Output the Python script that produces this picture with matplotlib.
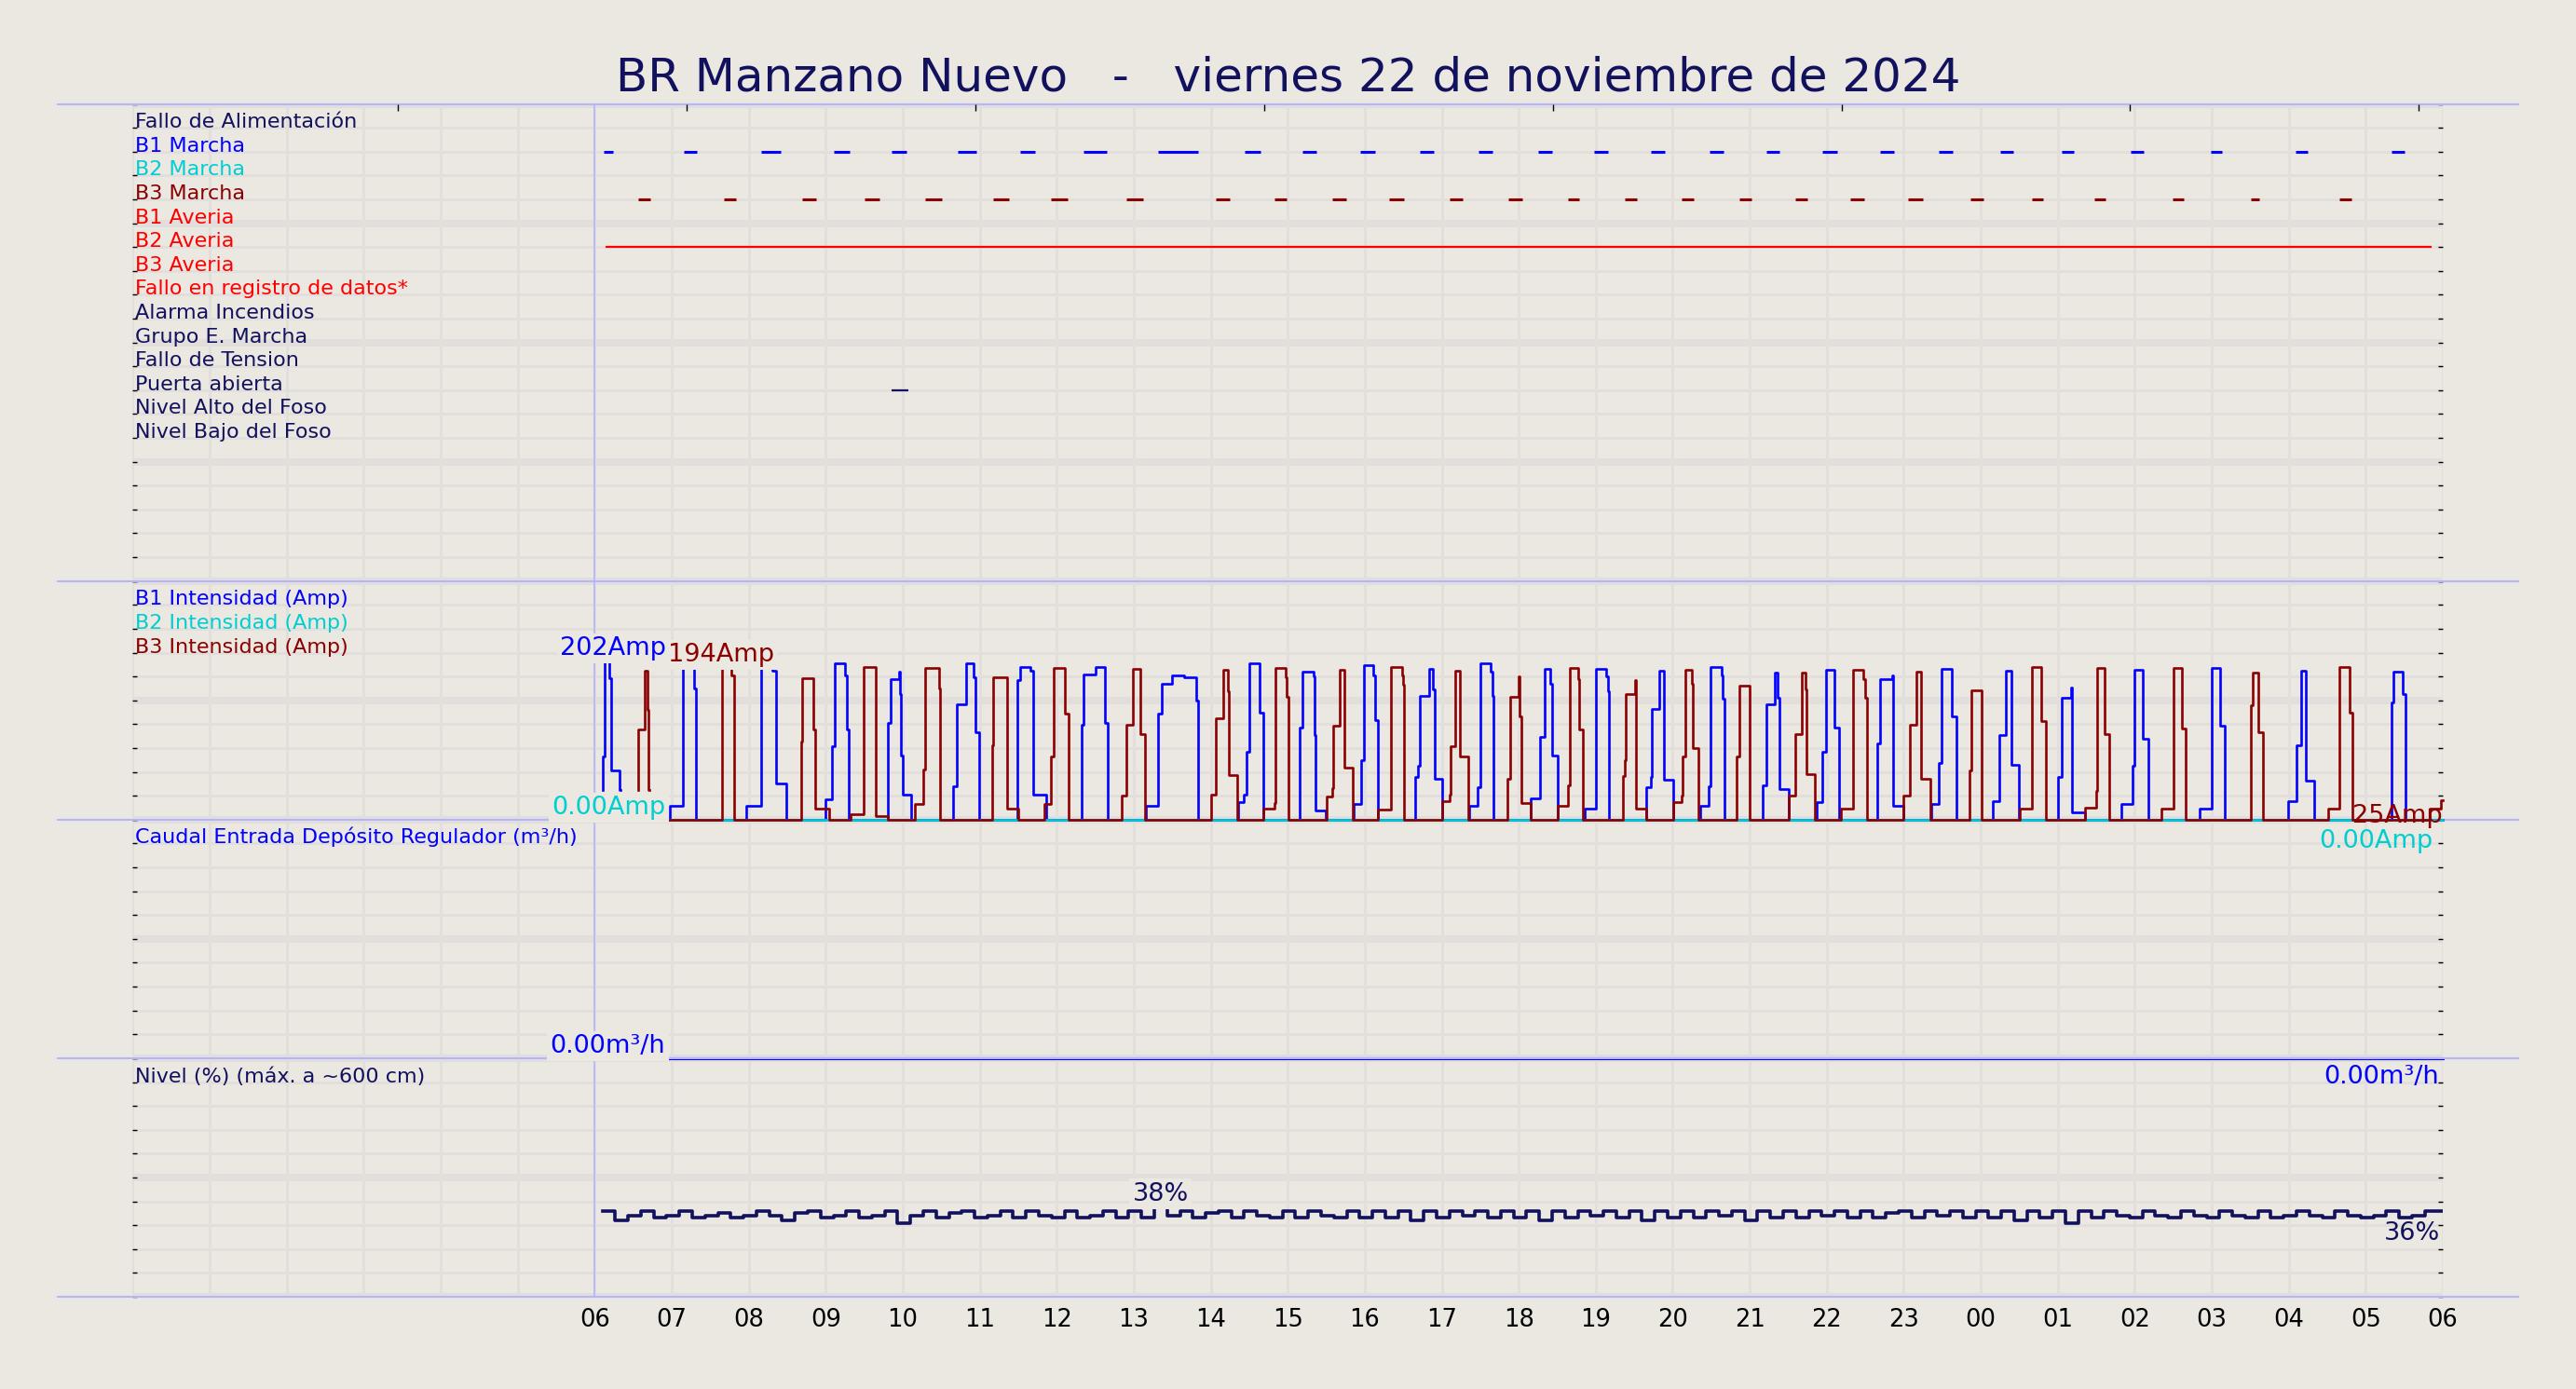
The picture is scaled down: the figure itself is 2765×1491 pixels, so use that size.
import numpy as np
import matplotlib
matplotlib.use("Agg")
import matplotlib.pyplot as plt
from matplotlib.ticker import FixedLocator
from matplotlib.transforms import blended_transform_factory

nan = np.nan

# ---- data (hours since 00:00 of 22/11/2024) ----
title = "BR Manzano Nuevo   -   viernes 22 de noviembre de 2024"

signal_rows = ["Fallo de Alimentación", "B1 Marcha", "B2 Marcha", "B3 Marcha",
               "B1 Averia", "B2 Averia", "B3 Averia", "Fallo en registro de datos*",
               "Alarma Incendios", "Grupo E. Marcha", "Fallo de Tension",
               "Puerta abierta", "Nivel Alto del Foso", "Nivel Bajo del Foso"]

b1_marcha_on = [6.12, 7.16, 8.16, 9.11, 9.86, 10.71, 11.52, 12.35, 13.32, 14.44,
                15.19, 15.94, 16.72, 17.48, 18.25, 18.98, 19.72, 20.48, 21.21, 21.94,
                22.69, 23.45, 24.25, 25.05, 25.95, 26.99, 28.09, 29.34]
b1_marcha_off = [6.24, 7.33, 8.41, 9.31, 10.05, 10.96, 11.72, 12.65, 13.84, 14.65,
                 15.37, 16.13, 16.90, 17.66, 18.43, 19.16, 19.90, 20.66, 21.39, 22.13,
                 22.87, 23.64, 24.42, 25.21, 26.11, 27.13, 28.24, 29.50]
b3_marcha_on = [6.57, 7.68, 8.69, 9.50, 10.29, 11.18, 11.93, 12.90, 14.06, 14.83,
                15.58, 16.32, 17.10, 17.87, 18.64, 19.38, 20.11, 20.86, 21.59, 22.31,
                23.06, 23.86, 24.66, 25.47, 26.49, 27.51, 28.66]
b3_marcha_off = [6.72, 7.83, 8.88, 9.70, 10.51, 11.38, 12.14, 13.12, 14.25, 14.99,
                 15.76, 16.51, 17.27, 18.05, 18.79, 19.54, 20.27, 21.02, 21.75, 22.49,
                 23.25, 24.03, 24.81, 25.62, 26.63, 27.62, 28.81]
b2_averia_on = [6.14]
b2_averia_off = [29.86]
puerta_on = [9.86]
puerta_off = [10.07]

b1_t = [6.11, 6.11, 6.135, 6.19, 6.216, 6.324, 6.33,
        6.92, 6.973, 7.14, 7.29, 7.32,
        7.97, 8.16, 8.31, 8.35, 8.49,
        9.00, 9.08, 9.12, 9.25, 9.28, 9.30,
        9.81, 9.84, 9.95, 9.97, 9.98, 10.00, 10.11,
        10.65, 10.70, 10.82, 10.92, 10.94, 10.99,
        11.49, 11.52, 11.66, 11.70, 11.86,
        12.32, 12.35, 12.50, 12.62, 12.66,
        13.16, 13.31, 13.37, 13.50, 13.65, 13.81, 13.83,
        14.36, 14.43, 14.46, 14.50, 14.63, 14.68,
        15.16, 15.19, 15.34, 15.35, 15.36, 15.49,
        15.86, 15.95, 15.99, 16.11, 16.13, 16.17,
        16.66, 16.69, 16.71, 16.84, 16.89, 16.91, 17.01,
        17.36, 17.47, 17.50, 17.63, 17.66, 17.67,
        18.16, 18.27, 18.34, 18.41, 18.43, 18.51,
        18.86, 19.00, 19.14, 19.16, 19.17,
        19.66, 19.71, 19.73, 19.83, 19.88, 20.01,
        20.36, 20.47, 20.49, 20.63, 20.65, 20.67,
        21.17, 21.22, 21.33, 21.36, 21.38, 21.51,
        21.87, 21.94, 21.99, 22.10, 22.16,
        22.66, 22.69, 22.85, 22.86, 22.99,
        23.36, 23.46, 23.49, 23.62, 23.68,
        24.16, 24.24, 24.33, 24.40, 24.50,
        25.00, 25.05, 25.17, 25.18, 25.35,
        25.83, 25.97, 26.00, 26.10, 26.18,
        26.84, 27.00, 27.11, 27.17,
        27.99, 28.10, 28.16, 28.22, 28.33,
        29.34, 29.36, 29.48, 29.51, 30.0]
b1_a = [38, 80, 202, 180, 62, 38, nan,
        0, 18, 194, 167, 0,
        18, 193, 189, 46, 0,
        26, 93, 199, 183, 115, 0,
        123, 179, 188, 159, 82, 32, 0,
        42, 147, 198, 181, 111, 0,
        177, 194, 189, 32, 0,
        121, 184, 194, 123, 0,
        18, 135, 172, 183, 181, 151, 0,
        22, 32, 86, 199, 136, 0,
        117, 188, 182, 107, 12, 0,
        20, 76, 196, 183, 126, 0,
        54, 68, 157, 192, 165, 52, 0,
        17, 41, 199, 188, 157, 0,
        27, 105, 192, 173, 82, 0,
        14, 191, 182, 163, 0,
        41, 54, 140, 189, 51, 0,
        17, 42, 194, 183, 153, 0,
        44, 146, 187, 155, 39, 0,
        22, 86, 190, 117, 0,
        97, 179, 183, 17, 0,
        20, 72, 191, 131, 0,
        24, 107, 189, 70, 0,
        54, 155, 168, 9, 0,
        20, 68, 190, 103, 0,
        14, 193, 119, 0,
        24, 95, 189, 50, 0,
        149, 188, 159, 0, 0]

b2_t = [6.92, 30.0]
b2_a = [0, 0]

b3_t = [6.568, 6.568, 6.65, 6.686, 6.703, 6.71,
        6.92, 7.65, 7.78, 7.81,
        8.68, 8.70, 8.84, 8.86, 9.04,
        9.32, 9.49, 9.65, 9.81,
        10.16, 10.27, 10.29, 10.47, 10.49,
        11.16, 11.18, 11.35, 11.50,
        11.84, 11.93, 11.96, 12.11, 12.15,
        12.84, 12.90, 12.99, 13.08, 13.15,
        14.00, 14.06, 14.16, 14.22, 14.24, 14.34,
        14.68, 14.83, 14.84, 14.97, 14.99, 15.01,
        15.50, 15.58, 15.59, 15.67, 15.73, 15.85,
        16.17, 16.34, 16.48, 16.50, 16.51,
        17.00, 17.10, 17.12, 17.17, 17.24, 17.34,
        17.85, 17.89, 18.00, 18.01, 18.03, 18.16,
        18.51, 18.64, 18.66, 18.77, 18.79, 18.83,
        19.35, 19.38, 19.39, 19.51, 19.52, 19.66,
        20.01, 20.12, 20.13, 20.16, 20.25, 20.26, 20.33,
        20.83, 20.86, 20.87, 21.00,
        21.51, 21.59, 21.67, 21.72, 21.74, 21.84,
        22.18, 22.34, 22.47, 22.50, 22.52,
        23.00, 23.08, 23.16, 23.23, 23.35,
        23.85, 23.88, 24.01,
        24.51, 24.67, 24.78, 24.84,
        25.35, 25.50, 25.51, 25.61, 25.67,
        26.35, 26.50, 26.61, 26.66,
        27.51, 27.53, 27.60, 27.67,
        28.51, 28.66, 28.79, 28.83,
        29.83, 29.97, 30.0]
b3_a = [38, 115, 189, 139, 38, nan,
        0, 193, 183, 0,
        99, 180, 115, 14, 0,
        7, 194, 4, 0,
        20, 64, 193, 167, 0,
        95, 181, 14, 0,
        20, 80, 193, 135, 0,
        30, 121, 192, 109, 0,
        32, 129, 190, 163, 56, 0,
        14, 21, 193, 181, 156, 0,
        29, 40, 119, 190, 66, 0,
        13, 194, 183, 171, 0,
        24, 32, 93, 189, 80, 0,
        52, 156, 182, 131, 21, 0,
        17, 44, 193, 179, 115, 0,
        55, 76, 160, 177, 14, 0,
        22, 30, 80, 190, 173, 91, 0,
        80, 97, 170, 0,
        30, 109, 187, 165, 58, 0,
        14, 190, 179, 155, 0,
        31, 121, 188, 52, 0,
        62, 164, 0,
        14, 194, 125, 0,
        15, 36, 193, 109, 0,
        14, 193, 116, 0,
        145, 187, 111, 0,
        14, 194, 136, 0,
        14, 25, 25]

caudal_t = [6.92, 30.0]
caudal_v = [0, 0]

# nivel (%), one value every 10 min from 06:06
level_start = 6.1
level = [36, 32, 34, 36, 33, 34,
         36, 33, 34, 35, 33, 34,
         36, 34, 32, 35, 36, 33,
         34, 36, 33, 34, 36, 31,
         34, 36, 33, 35, 36, 33,
         34, 36, 33, 36, 34, 33,
         36, 33, 34, 36, 33, 36,
         33, 38, 34, 36, 33, 35,
         36, 33, 36, 34, 33, 36,
         33, 36, 34, 33, 36, 33,
         36, 33, 36, 32, 36, 33,
         36, 34, 36, 33, 36, 33,
         36, 32, 36, 33, 36, 34,
         36, 33, 36, 32, 36, 33,
         36, 33, 36, 34, 36, 32,
         36, 33, 36, 33, 36, 34,
         36, 33, 36, 33, 35, 36,
         33, 36, 34, 36, 33, 36,
         33, 36, 32, 36, 33, 36,
         31, 36, 33, 36, 34, 33,
         36, 34, 33, 36, 34, 33,
         36, 34, 33, 36, 33, 34,
         36, 34, 33, 36, 34, 33,
         34, 36, 33, 34, 36, 36]

top_marks = [3.44, 7.19, 10.94, 14.69, 18.44, 22.19, 25.94, 29.69]
hours = list(range(31))

# ---- style ----
bg = "#ebe7e1"
grid_c = "#e2dedc"
lav = "#b4b4ff"
navy = "#11115e"
c_b1 = "#0000ff"
c_b2 = "#00ced1"
c_b3 = "#8b0000"
c_red = "#ff0000"

row_colors = [navy, c_b1, c_b2, c_b3, c_red, c_red, c_red, c_red,
              navy, navy, navy, navy, navy, navy]

fig = plt.figure(figsize=(27.65, 14.91), dpi=100, facecolor=bg)
gs = fig.add_gridspec(4, 1, height_ratios=[20, 10, 10, 10], hspace=0,
                      left=0.0515, right=0.9483, top=0.9252, bottom=0.0664)
axs = [fig.add_subplot(gs[i]) for i in range(4)]
for i, ax in enumerate(axs):
    ax.set_zorder(4 - i)

box = dict(boxstyle="square,pad=0.12", fc=bg, ec="none")


def setup(ax, nrows, top):
    ax.set_facecolor("none")
    ax.set_xlim(0, 30)
    ax.set_ylim(0, top)
    ax.xaxis.set_major_locator(FixedLocator(hours))
    ax.yaxis.set_major_locator(FixedLocator(np.linspace(0, top, nrows // 5 + 1)))
    ax.yaxis.set_minor_locator(FixedLocator(np.linspace(0, top, nrows + 1)))
    ax.grid(axis="x", which="major", color=grid_c, lw=2)
    ax.grid(axis="y", which="major", color=grid_c, lw=5.8)
    ax.grid(axis="y", which="minor", color=grid_c, lw=2)
    ax.set_axisbelow(True)
    ax.tick_params(axis="x", length=0, labelbottom=False)
    ax.tick_params(axis="y", which="both", direction="in", length=3.6, width=1,
                   left=True, right=True, labelleft=False, color="black")
    for s in ax.spines.values():
        s.set_visible(False)
    ax.axvline(6, color=lav, lw=1.2, zorder=1.5)
    tr = blended_transform_factory(fig.transFigure, ax.transAxes)
    ax.plot([0.0223, 0.9776], [0, 0], transform=tr, color=lav, lw=1.5,
            clip_on=False, zorder=1.5)


def fmt(v):
    return "0.00" if v == 0 else f"{v:.0f}"


def segments(ax, y, on, off, color, lw):
    ax.hlines([y] * len(on), on, off, color=color, lw=lw)


def row_label(ax, frac, name, color):
    ax.text(0.001, frac, name, transform=ax.transAxes, color=color,
            fontsize=16, ha="left", va="baseline", zorder=3)


def end_label(ax, x, y, s, color, dy):
    ax.annotate(s, (x, y), xytext=(0, dy), textcoords="offset points", color=color,
                fontsize=19.5, ha="right", va="top", zorder=4, annotation_clip=False)


# ---- panel 1: digital signals ----
ax1 = axs[0]
setup(ax1, 20, 20)
tr = blended_transform_factory(fig.transFigure, ax1.transAxes)
ax1.plot([0.0223, 0.9776], [1, 1], transform=tr, color=lav, lw=1.5, clip_on=False)
for k, (name, col) in enumerate(zip(signal_rows, row_colors)):
    row_label(ax1, (19 - k) / 20, name, col)
segments(ax1, 18, b1_marcha_on, b1_marcha_off, c_b1, 2.2)
segments(ax1, 16, b3_marcha_on, b3_marcha_off, c_b3, 2.2)
segments(ax1, 14, b2_averia_on, b2_averia_off, c_red, 1.6)
segments(ax1, 8, puerta_on, puerta_off, navy, 1.6)

axt = ax1.twiny()
axt.set_zorder(5)
axt.patch.set_visible(False)
axt.set_xlim(0, 30)
axt.set_xticks(top_marks)
axt.tick_params(axis="x", top=True, bottom=False, direction="in", length=5,
                width=1, labeltop=False, labelbottom=False)
axt.yaxis.set_visible(False)
for s in axt.spines.values():
    s.set_visible(False)

# ---- panel 2: currents ----
ax2 = axs[1]
imax = max(np.nanmax(b1_a), np.nanmax(b3_a))
setup(ax2, 10, 1.5 * imax)
for k, (name, col) in enumerate([("B1 Intensidad (Amp)", c_b1),
                                 ("B2 Intensidad (Amp)", c_b2),
                                 ("B3 Intensidad (Amp)", c_b3)]):
    row_label(ax2, (9 - k) / 10, name, col)
ax2.plot(b1_t, b1_a, drawstyle="steps-post", color=c_b1, lw=1.9, clip_on=False, zorder=2)
ax2.plot(b2_t, b2_a, drawstyle="steps-post", color=c_b2, lw=1.9, clip_on=False, zorder=2.1)
ax2.plot(b3_t, b3_a, drawstyle="steps-post", color=c_b3, lw=1.9, clip_on=False, zorder=2.2)

x0 = b2_t[0]
m1 = np.nanmax(b1_a)
m3 = np.nanmax(b3_a)
ax2.text(x0 + 0.01, m1, fmt(m1) + "Amp", color=c_b1, fontsize=19.5, ha="right",
         va="bottom", bbox=box, zorder=4)
ax2.text(x0 + 0.03, m3, fmt(m3) + "Amp", color=c_b3, fontsize=19.5, ha="left",
         va="bottom", bbox=box, zorder=4)
ax2.text(x0, b2_a[0], fmt(b2_a[0]) + "Amp", color=c_b2, fontsize=19.5, ha="right",
         va="bottom", bbox=box, zorder=4)
end_label(ax2, 30, b3_a[-1], fmt(b3_a[-1]) + "Amp", c_b3, -3)
end_label(ax2, 29.87, b2_a[-1], fmt(b2_a[-1]) + "Amp", c_b2, -7)

# ---- panel 3: flow ----
ax3 = axs[2]
setup(ax3, 10, 10)
row_label(ax3, 0.9, "Caudal Entrada Depósito Regulador (m³/h)", c_b1)
ax3.plot(caudal_t, caudal_v, drawstyle="steps-post", color=c_b1, lw=2.2,
         clip_on=False, zorder=1.4)
ax3.text(caudal_t[0], caudal_v[0], fmt(caudal_v[0]) + "m³/h", color=c_b1, fontsize=19.5,
         ha="right", va="bottom", bbox=box, zorder=4)
end_label(ax3, 29.95, caudal_v[-1], fmt(caudal_v[-1]) + "m³/h", c_b1, -5)

# ---- panel 4: level ----
ax4 = axs[3]
setup(ax4, 10, 100)
row_label(ax4, 0.9, "Nivel (%) (máx. a ~600 cm)", navy)
level_t = list(level_start + np.arange(len(level)) / 6.0) + [30.0]
level_v = level + [level[-1]]
ax4.plot(level_t, level_v, drawstyle="steps-post", color=navy, lw=2.6, zorder=2)
kmax = int(np.argmax(level))
ax4.text(level_t[kmax] + 1 / 12, level[kmax], f"{level[kmax]:.0f}%", color=navy,
         fontsize=19.5, ha="center", va="bottom", bbox=box, zorder=4)
end_label(ax4, 29.97, level[-1], f"{level[-1]:.0f}%", navy, -8)
ax4.set_xticks(hours)
ax4.set_xticklabels(["" if h < 6 else f"{h % 24:02d}" for h in hours])
ax4.tick_params(axis="x", labelbottom=True, labelsize=18.5, pad=9, colors="black")

fig.text(0.5, 0.944, title, ha="center", va="center", fontsize=36, color=navy)

fig.savefig("out.png", dpi=100, facecolor=bg)
